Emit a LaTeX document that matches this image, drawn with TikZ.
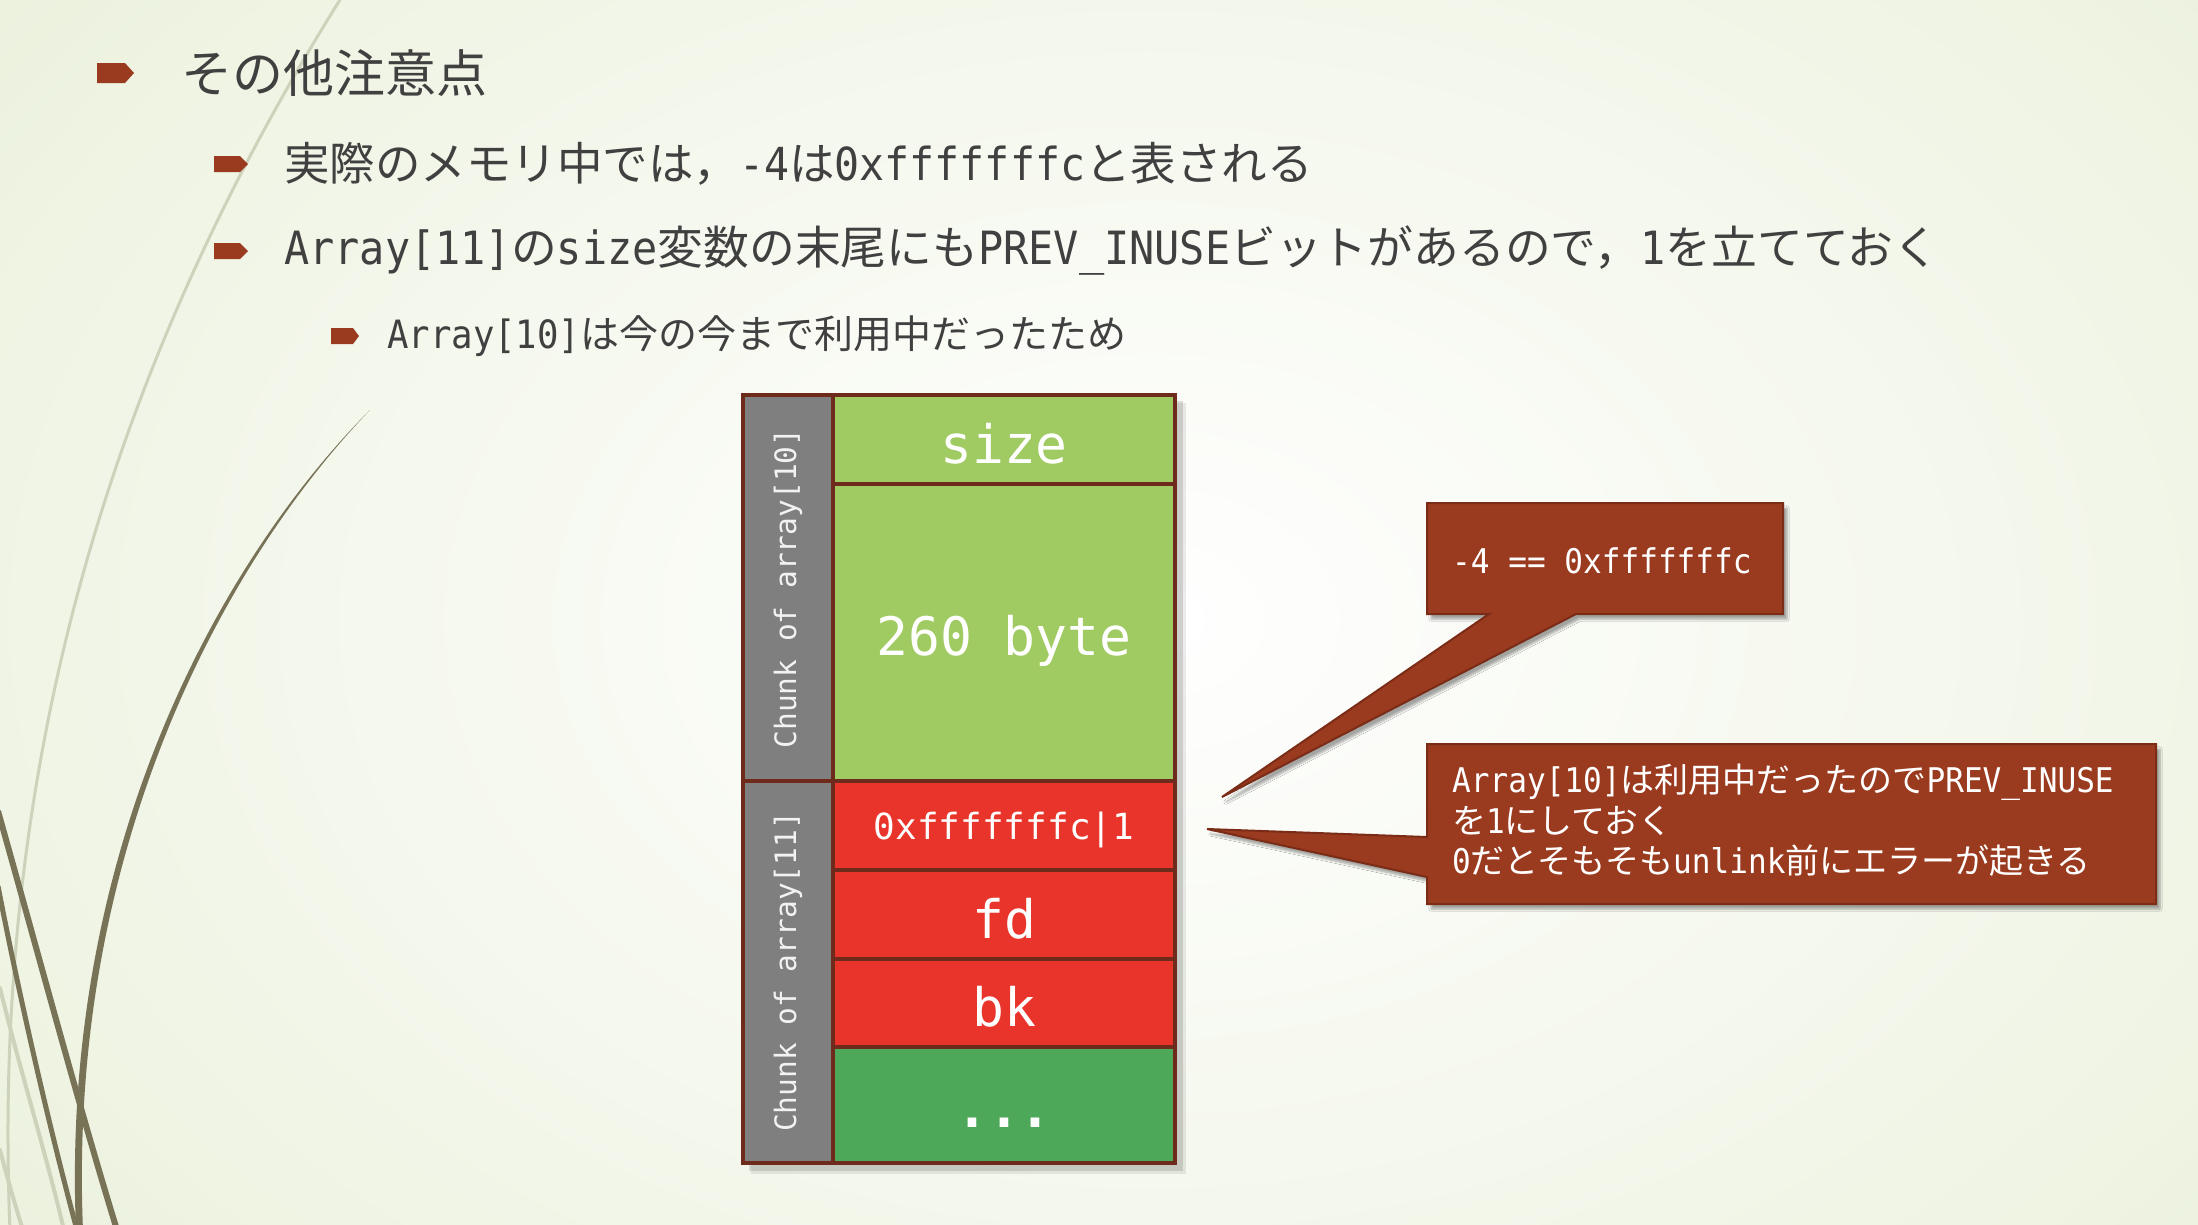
\documentclass[tikz,border=0pt]{standalone}
\usepackage{fontspec}
\setmainfont{Noto Sans CJK JP}
\newfontfamily\jpfont{Noto Sans CJK JP}
\newfontfamily\monoN{DejaVu Sans Mono}[FakeStretch=0.914]
\newfontfamily\boxmono{DejaVu Sans Mono}
\newcommand{\mtt}[1]{{\monoN #1}}
\usetikzlibrary{shadows,shadows.blur}
\definecolor{bgout}{HTML}{DEE8C6}
\definecolor{txtgray}{HTML}{404040}
\definecolor{rust}{HTML}{9A3A1F}
\definecolor{rustdark}{HTML}{7A2C17}
\definecolor{cellborder}{HTML}{6E2A1A}
\definecolor{cellgray}{HTML}{7F7F7F}
\definecolor{lightgreen}{HTML}{A0CB62}
\definecolor{redcell}{HTML}{E8342A}
\definecolor{darkgreen}{HTML}{4EA85A}
\definecolor{olive}{HTML}{787256}
\definecolor{paleline}{HTML}{CDD2BA}
\begin{document}
\begin{tikzpicture}[x=1pt,y=-1pt,
  bulletmark/.style={fill=rust, draw=none},
  bodytext/.style={anchor=west, inner sep=0pt, text=txtgray},
  cell/.style={draw=cellborder, line width=3.5pt, inner sep=0pt, outer sep=0pt, anchor=north west},
  celltext/.style={inner sep=0pt, text=white, yshift=-4pt, font=\boxmono\fontsize{53}{60}\selectfont},
  chunklabel/.style={inner sep=0pt, rotate=90, text=white!95!black, font=\boxmono\fontsize{29.5}{34}\selectfont},
  calloutshape/.style={fill=rust, draw=rustdark, line width=2pt, line join=miter, blur shadow={shadow xshift=4pt, shadow yshift=-5pt, shadow blur steps=6, shadow opacity=35}},
  callouttext/.style={anchor=west, inner sep=0pt, text=white, align=left, font=\jpfont\fontsize{34}{40.5}\selectfont},
  deco/.style={line cap=round}
]
\useasboundingbox (0,0) rectangle (2198,1224);
% background
\fill[bgout] (0,0) rectangle (2198,1224);
\begin{scope}
  \clip (0,0) rectangle (2198,1224);
  \shade[inner color=white, outer color=bgout] (1150,620) ellipse [x radius=2500, y radius=1750];
  % decorative curves
  \draw[deco, paleline, line width=3pt] (343,-5) .. controls (120,350) and (-10,750) .. (10,1230);
  \draw[deco, paleline, line width=4pt] (0,988) .. controls (20,1070) and (45,1150) .. (64,1230);
  \draw[deco, paleline, line width=4pt] (0,1150) .. controls (8,1180) and (15,1205) .. (23,1230);
  \fill[olive] (370,410) .. controls (220,560) and (60,850) .. (76,1230) -- (83,1230) .. controls (67,850) and (224,562) .. (370,410) -- cycle;
  \draw[olive, line width=6pt] (-2,811) .. controls (40,960) and (80,1110) .. (117,1230);
  \draw[olive, line width=5pt] (-2,886) .. controls (20,1000) and (50,1130) .. (77,1230);
\end{scope}

% bullets
\fill[bulletmark] (97,63) -- (125,63) -- (134,73) -- (125,83) -- (97,83) -- cycle;
\fill[bulletmark] (214,156) -- (240,156) -- (248,164) -- (240,172) -- (214,172) -- cycle;
\fill[bulletmark] (214,243) -- (240,243) -- (248,251) -- (240,259) -- (214,259) -- cycle;
\fill[bulletmark] (331,328) -- (353,328) -- (359,336) -- (353,344) -- (331,344) -- cycle;

% bullet texts
\node[bodytext, font=\jpfont\fontsize{51}{60}\selectfont] (title) at (181,73) {その他注意点};
\node[bodytext, font=\jpfont\fontsize{45.5}{54}\selectfont] (b1) at (284,164) {実際のメモリ中では，\mtt{-4}は\mtt{0xfffffffc}と表される};
\node[bodytext, font=\jpfont\fontsize{45.8}{54}\selectfont] (b2) at (284,251) {\mtt{Array[11]}の\mtt{size}変数の末尾にも\mtt{PREV\_INUSE}ビットがあるので，\mtt{1}を立てておく};
\node[bodytext, font=\jpfont\fontsize{39}{46}\selectfont] (b3) at (387,336) {\mtt{Array[10]}は今の今まで利用中だったため};

% memory box
\fill[black, opacity=0.12] (749,401) rectangle (1183,1171);
\fill[black, opacity=0.08] (751,403) rectangle (1186,1174);
\node[cell, fill=cellgray, minimum width=90pt, minimum height=387pt] (g10) at (743,395) {};
\node[cell, fill=cellgray, minimum width=90pt, minimum height=382pt] (g11) at (743,781) {};
\node[cell, fill=lightgreen, minimum width=342pt, minimum height=89pt] (size) at (833,395) {};
\node[cell, fill=lightgreen, minimum width=342pt, minimum height=297pt] (b260) at (833,484) {};
\node[cell, fill=redcell, minimum width=342pt, minimum height=89pt] (ffc) at (833,781) {};
\node[cell, fill=redcell, minimum width=342pt, minimum height=89pt] (fd) at (833,870) {};
\node[cell, fill=redcell, minimum width=342pt, minimum height=88pt] (bk) at (833,959) {};
\node[cell, fill=darkgreen, minimum width=342pt, minimum height=116pt] (dots) at (833,1047) {};
\node[celltext] (sizeT) at (size.center) {size};
\node[celltext, yshift=-4pt] (b260T) at (b260.center) {260 byte};
\node[celltext, font=\boxmono\fontsize{36}{42}\selectfont] (ffcT) at (ffc.center) {0xfffffffc|1};
\node[celltext] (fdT) at (fd.center) {fd};
\node[celltext] (bkT) at (bk.center) {bk};
\node[celltext, yshift=-14pt, font=\boxmono\bfseries\fontsize{53}{60}\selectfont] (dotsT) at (dots.center) {...};
\node[chunklabel] (c10) at (g10.center) {Chunk of array[10]};
\node[chunklabel] (c11) at (g11.center) {Chunk of array[11]};

% callouts
\path[calloutshape] (1427,503) -- (1783,503) -- (1783,614) -- (1576,614) -- (1222,797) -- (1489,614) -- (1427,614) -- cycle;
\path[calloutshape] (1427,744) -- (2156,744) -- (2156,904) -- (1427,904) -- (1427,877) -- (1207,829) -- (1427,837) -- cycle;
\node[callouttext] (t1) at (1452,561) {\mtt{-4 == 0xfffffffc}};
\node[callouttext, anchor=north west] (t2) at (1452,764) {\mtt{Array[10]}は利用中だったので\mtt{PREV\_INUSE}\\を\mtt{1}にしておく\\\mtt{0}だとそもそも\mtt{unlink}前にエラーが起きる};
\end{tikzpicture}
\end{document}
